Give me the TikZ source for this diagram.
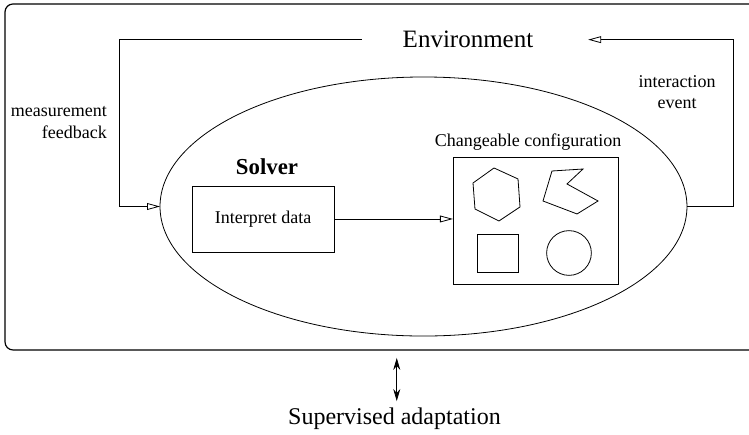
\documentclass[tikz,border=0pt]{standalone}
\usepackage{fontspec}
\setmainfont{Liberation Serif}
\usetikzlibrary{arrows.meta, positioning, shapes.geometric}

\begin{document}
\begin{tikzpicture}[
            box/.style={draw, inner sep=0pt, outer sep=0pt},
            arr/.style={-{Triangle[open, length=6.5pt, width=3.4pt]}},
            dbl/.style={{Stealth[length=6pt, width=3.5pt]}-{Stealth[length=6pt, width=3.5pt]}},
            lbl/.style={font=\fontsize{9}{10.8}\selectfont},
            big/.style={font=\fontsize{12.5}{15}\selectfont}
        ]
        \useasboundingbox (0, 0) rectangle (13.162, 7.644);
        \clip (0, 0) rectangle (13.162, 7.644);

        % outer frame, runs off the right edge
        \node[box, rounded corners=4pt, line width=0.6pt, minimum width=13.268cm, minimum height=6.08cm] (frame) at (6.722, 4.534) {};

        % Environment and the loop round the solver
        \node[big] (env) at (8.224, 6.947) {Environment};
        \node[box, ellipse, minimum width=9.26cm, minimum height=4.552cm] (sys) at (7.442, 4.015) {};
        \draw[arr] ([xshift=-0.6cm]env.west) -- ++(-4.253, 0) |- (sys.west);
        \draw[arr] (sys.east) -- ++(0.808, 0) |- ([xshift=0.84cm]env.east);
        \node[lbl, align=right, anchor=east] (meas) at (2.003, 5.492) {measurement\\feedback};
        \node[lbl, align=center] (inter) at (11.897, 6.028) {interaction\\event};

        % Solver
        \node[font=\fontsize{11.4}{13}\selectfont\bfseries] (solver) at (4.692, 4.710) {Solver};
        \node[box, lbl, minimum width=2.495cm, minimum height=1.16cm] (interp) at (4.622, 3.796) {Interpret data};
        \node[box, minimum width=2.9cm, minimum height=2.232cm] (cfg) at (9.41, 3.769) {};
        \node[lbl, above=0pt of cfg, xshift=-0.13cm] (cfglbl) {Changeable configuration};
        \draw[arr] (interp.east) -- (interp.east -| cfg.west);

        % shapes in the configuration
        \draw (8.312, 4.428) -- (8.681, 4.692) -- (9.103, 4.499) -- (9.138, 4.007) -- (8.769, 3.761) -- (8.347, 3.971) -- cycle;
        \draw (9.700, 4.639) -- (10.245, 4.674) -- (9.964, 4.411) -- (10.509, 4.112) -- (10.140, 3.884) -- (9.542, 4.112) -- cycle;
        \draw (8.382, 2.864) rectangle (9.103, 3.532);
        \draw (9.999, 3.198) circle (0.393);

        % supervision from outside
        \node[font=\fontsize{12}{14}\selectfont] (sup) at (6.932, 0.281) {Supervised adaptation};
        \draw[dbl] ([xshift=0.04cm]sup.north) -- ([xshift=0.04cm, yshift=-0.14cm]sup.north |- frame.south);
        \end{tikzpicture}
\end{document}
